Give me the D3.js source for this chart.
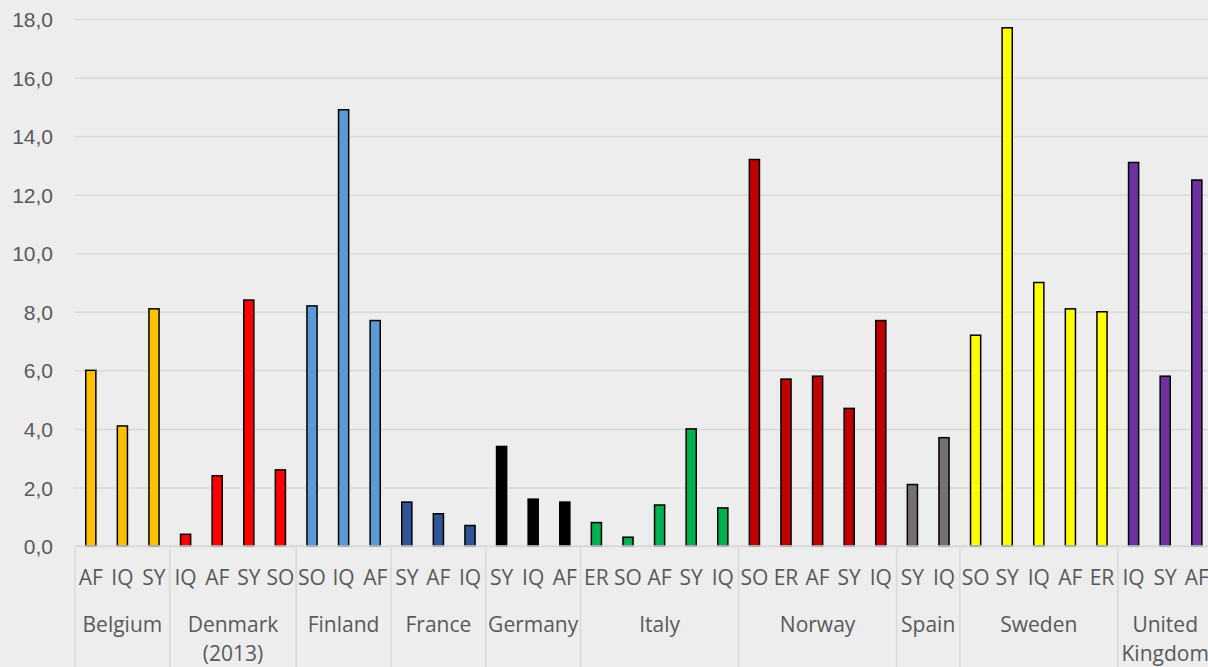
<!DOCTYPE html>
<html>
<head>
<meta charset="utf-8">
<script src="https://cdn.jsdelivr.net/npm/d3@7"></script>
<style>
  html, body { margin: 0; padding: 0; background: #ededed; }
  svg { display: block; font-family: "Open Sans", sans-serif; }
  .tick text { fill: #595959; font-size: 21px; }
  .lbl { fill: #595959; font-size: 21px; }
</style>
</head>
<body>
<div class="container"></div>
<script>
// one entry per country group
var countries = ["Belgium", "Denmark\n(2013)", "Finland", "France", "Germany", "Italy", "Norway", "Spain", "Sweden", "United\nKingdom"];
var groupCodes = [
	["AF", "IQ", "SY"],
	["IQ", "AF", "SY", "SO"],
	["SO", "IQ", "AF"],
	["SY", "AF", "IQ"],
	["SY", "IQ", "AF"],
	["ER", "SO", "AF", "SY", "IQ"],
	["SO", "ER", "AF", "SY", "IQ"],
	["SY", "IQ"],
	["SO", "SY", "IQ", "AF", "ER"],
	["IQ", "SY", "AF"]
];
var groupValues = [
	[6.0, 4.1, 8.1],
	[0.4, 2.4, 8.4, 2.6],
	[8.2, 14.9, 7.7],
	[1.5, 1.1, 0.7],
	[3.4, 1.6, 1.5],
	[0.8, 0.3, 1.4, 4.0, 1.3],
	[13.2, 5.7, 5.8, 4.7, 7.7],
	[2.1, 3.7],
	[7.2, 17.7, 9.0, 8.1, 8.0],
	[13.1, 5.8, 12.5]
];
var groupColors = ["#ffc000", "#ff0000", "#5b9bd5", "#2f5597", "#000000", "#00b050", "#c00000", "#767171", "#ffff00", "#7030a0"];
var yTicks = [0, 2, 4, 6, 8, 10, 12, 14, 16, 18];

const WIDTH = 1208;
const HEIGHT = 667;
const LEFT = 75;
const TOP = 19;
const BASE = 546;
const STEP = 31.6;

var translate = function(x, y){
	return "translate(" + x + "," + y + ")";
};

// flatten into one row per bar
var bars = [];
countries.forEach(function(c, gi){
	groupCodes[gi].forEach(function(code, i){
		bars.push({key: gi + "|" + i, group: gi, code: code, value: groupValues[gi][i]});
	});
});

var svg = d3.select('.container').append('svg')
	.attr('width', WIDTH)
	.attr('height', HEIGHT);

var xScale = d3.scaleBand()
	.domain(bars.map(function(d){ return d.key; }))
	.range([LEFT, LEFT + bars.length * STEP])
	.paddingInner(0.68)
	.paddingOuter(0.34);

var yScale = d3.scaleLinear()
	.domain([0, 18])
	.range([BASE, TOP]);

// gridlines
var grid = svg.append('g')
	.attr('transform', translate(LEFT, 0))
	.call(d3.axisLeft(yScale).tickValues(yTicks).tickSize(-(WIDTH - LEFT)).tickFormat(''));
grid.select('.domain').remove();
grid.selectAll('.tick line').attr('stroke', '#d9d9d9').attr('stroke-width', 1.5);

// y labels
var yAxis = svg.append('g')
	.attr('transform', translate(LEFT, 0))
	.call(d3.axisLeft(yScale).tickValues(yTicks).tickSize(0).tickPadding(22)
		.tickFormat(function(d){ return d.toFixed(1).replace('.', ','); }));
yAxis.select('.domain').remove();
yAxis.selectAll('.tick text').attr('dy', '0.36em');

// bars
svg.append('g').selectAll('rect').data(bars)
	.enter().append('rect')
	.attr('x', function(d){ return xScale(d.key); })
	.attr('y', function(d){ return yScale(d.value); })
	.attr('width', xScale.bandwidth())
	.attr('height', function(d){ return BASE - yScale(d.value); })
	.attr('fill', function(d){ return groupColors[d.group]; })
	.attr('stroke', '#000')
	.attr('stroke-width', 1.5);

// base line
svg.append('line')
	.attr('x1', LEFT).attr('x2', WIDTH)
	.attr('y1', BASE).attr('y2', BASE)
	.attr('stroke', '#d9d9d9').attr('stroke-width', 1.5);

// code labels
svg.append('g').selectAll('text').data(bars)
	.enter().append('text')
	.classed('lbl', true)
	.attr('x', function(d){ return xScale(d.key) + xScale.bandwidth() / 2; })
	.attr('y', 585)
	.attr('text-anchor', 'middle')
	.text(function(d){ return d.code; });

// group boundaries and names
var groups = countries.map(function(c, gi){
	var keys = bars.filter(function(b){ return b.group === gi; });
	var x0 = xScale(keys[0].key) - xScale.step() * xScale.paddingInner() / 2;
	var x1 = x0 + keys.length * xScale.step();
	return {name: c, x0: x0, x1: x1};
});

var seps = [groups[0].x0].concat(groups.map(function(g){ return g.x1; }));
svg.append('g').selectAll('line').data(seps)
	.enter().append('line')
	.attr('x1', function(d){ return d; }).attr('x2', function(d){ return d; })
	.attr('y1', BASE + 2).attr('y2', HEIGHT)
	.attr('stroke', '#d9d9d9').attr('stroke-width', 1.5);

var names = svg.append('g').selectAll('text').data(groups)
	.enter().append('text')
	.classed('lbl', true)
	.attr('text-anchor', 'middle')
	.attr('y', 632);

names.each(function(g){
	var t = d3.select(this);
	g.name.split('\n').forEach(function(line, i){
		t.append('tspan')
			.attr('x', (g.x0 + g.x1) / 2)
			.attr('dy', i === 0 ? 0 : 29)
			.text(line);
	});
});
</script>
</body>
</html>
